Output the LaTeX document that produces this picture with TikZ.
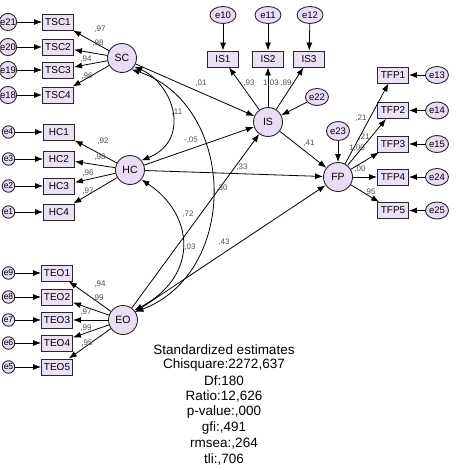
\documentclass[tikz,border=0pt]{standalone}
\usepackage{fontspec}
\setmainfont{Liberation Sans}
\usetikzlibrary{arrows.meta,shapes.geometric}
\definecolor{boxfill}{RGB}{236,224,244}
\definecolor{circfill}{RGB}{234,220,244}
\definecolor{lblgray}{RGB}{80,80,80}
\definecolor{edgecol}{RGB}{40,40,40}
\begin{document}
\begin{tikzpicture}[x=1pt,y=-1pt,
  obs/.style={draw=edgecol, line width=0.9pt, fill=boxfill, minimum width=31pt, minimum height=16pt, inner sep=0pt, font=\fontsize{10}{12}\selectfont},
  lat/.style={circle, draw=edgecol, line width=0.9pt, fill=circfill, minimum size=29pt, inner sep=0pt, font=\fontsize{10.5}{12}\selectfont},
  errel/.style={ellipse, draw=edgecol, line width=0.9pt, fill=circfill, minimum width=23pt, minimum height=17pt, inner sep=0pt, font=\fontsize{9.5}{11}\selectfont},
  errbig/.style={circle, draw=edgecol, line width=0.9pt, fill=circfill, minimum size=17pt, inner sep=0pt, font=\fontsize{9.5}{11}\selectfont},
  errsm/.style={circle, draw=edgecol, line width=0.9pt, fill=circfill, minimum size=12.5pt, inner sep=0pt, font=\fontsize{8.5}{10}\selectfont},
  arr/.style={-{Latex[length=8pt,width=6pt]}, line width=0.8pt},
  covarr/.style={{Latex[length=8pt,width=6pt]}-{Latex[length=8pt,width=6pt]}, line width=0.8pt},
  lbl/.style={font=\fontsize{8}{9}\selectfont, text=lblgray, inner sep=0pt},
  stat/.style={font=\fontsize{13.5}{15}\selectfont, inner sep=0pt}
]
\useasboundingbox (0,0) rectangle (458,470);

% latent variables
\node[lat] (SC) at (122,58) {SC};
\node[lat] (HC) at (130,170) {HC};
\node[lat] (EO) at (123,320) {EO};
\node[lat] (IS) at (268,122) {IS};
\node[lat] (FP) at (338,177) {FP};

% SC indicators
\node[obs] (TSC1) at (58,22) {TSC1};
\node[obs] (TSC2) at (58,47) {TSC2};
\node[obs] (TSC3) at (58,70) {TSC3};
\node[obs] (TSC4) at (58,95) {TSC4};
\node[errbig] (e21) at (8,22) {e21};
\node[errbig] (e20) at (8,47) {e20};
\node[errbig] (e19) at (8,70) {e19};
\node[errbig] (e18) at (8,95) {e18};

% HC indicators
\node[obs] (HC1) at (59,132) {HC1};
\node[obs] (HC2) at (59,159) {HC2};
\node[obs] (HC3) at (59,186) {HC3};
\node[obs] (HC4) at (59,212) {HC4};
\node[errsm] (e4) at (8.5,132) {e4};
\node[errsm] (e3) at (8.5,159) {e3};
\node[errsm] (e2) at (8.5,186) {e2};
\node[errsm] (e1) at (8.5,212) {e1};

% EO indicators
\node[obs] (TEO1) at (57,273) {TEO1};
\node[obs] (TEO2) at (57,297) {TEO2};
\node[obs] (TEO3) at (57,320) {TEO3};
\node[obs] (TEO4) at (57,343) {TEO4};
\node[obs] (TEO5) at (57,367) {TEO5};
\node[errsm] (e9) at (8.5,273) {e9};
\node[errsm] (e8) at (8.5,297) {e8};
\node[errsm] (e7) at (8.5,320) {e7};
\node[errsm] (e6) at (8.5,343) {e6};
\node[errsm] (e5) at (8.5,367) {e5};

% IS indicators
\node[obs] (IS1) at (223,59) {IS1};
\node[obs] (IS2) at (268,59) {IS2};
\node[obs] (IS3) at (309,59) {IS3};
\node[errel, minimum width=26pt] (e10) at (223,15) {e10};
\node[errel, minimum width=26pt] (e11) at (268,15) {e11};
\node[errel, minimum width=26pt] (e12) at (310,15) {e12};
\node[errel] (e22) at (317,97) {e22};
\node[errel, minimum height=19pt] (e23) at (338,131) {e23};

% FP indicators
\node[obs] (TFP1) at (393,75) {TFP1};
\node[obs] (TFP2) at (393,110.5) {TFP2};
\node[obs] (TFP3) at (393,144) {TFP3};
\node[obs] (TFP4) at (393,177) {TFP4};
\node[obs] (TFP5) at (393,210.5) {TFP5};
\node[errel] (e13) at (437,75) {e13};
\node[errel] (e14) at (437,110.5) {e14};
\node[errel] (e15) at (437,144) {e15};
\node[errel] (e24) at (437,177) {e24};
\node[errel] (e25) at (437,210.5) {e25};

% error arrows
\foreach \e/\b in {e21/TSC1,e20/TSC2,e19/TSC3,e18/TSC4,e4/HC1,e3/HC2,e2/HC3,e1/HC4,e9/TEO1,e8/TEO2,e7/TEO3,e6/TEO4,e5/TEO5,e10/IS1,e11/IS2,e12/IS3,e13/TFP1,e14/TFP2,e15/TFP3,e24/TFP4,e25/TFP5,e22/IS,e23/FP}
  \draw[arr] (\e) -- (\b);

% loadings
\draw[arr] (SC) -- (TSC1) node[lbl] at (100,29) {,97};
\draw[arr] (SC) -- (TSC2) node[lbl] at (98,43) {,98};
\draw[arr] (SC) -- (TSC3) node[lbl] at (86,59) {,94};
\draw[arr] (SC) -- (TSC4) node[lbl] at (87,76) {,96};

\draw[arr] (HC) -- (HC1) node[lbl] at (103,141) {,92};
\draw[arr] (HC) -- (HC2) node[lbl] at (100,157) {,98};
\draw[arr] (HC) -- (HC3) node[lbl] at (88,173) {,96};
\draw[arr] (HC) -- (HC4) node[lbl] at (88,191) {,97};

\draw[arr] (EO) -- (TEO1) node[lbl] at (100,284) {,94};
\draw[arr] (EO) -- (TEO2) node[lbl] at (98,298) {,99};
\draw[arr] (EO) -- (TEO3) node[lbl] at (86,312) {,97};
\draw[arr] (EO) -- (TEO4) node[lbl] at (86,328) {,99};
\draw[arr] (EO) -- (TEO5) node[lbl] at (87,343) {,95};

\draw[arr] (IS) -- (IS1) node[lbl] at (249,83) {,93};
\draw[arr] (IS) -- (IS2) node[lbl] at (271,83) {1,03};
\draw[arr] (IS) -- (IS3) node[lbl] at (286,83) {,89};

\draw[arr] (FP) -- (TFP1) node[lbl] at (361,118) {,21};
\draw[arr] (FP) -- (TFP2) node[lbl] at (364,137) {,21};
\draw[arr] (FP) -- (TFP3) node[lbl] at (357,148) {1,00};
\draw[arr] (FP) -- (TFP4) node[lbl] at (360,169) {,00};
\draw[arr] (FP) -- (TFP5) node[lbl] at (370,192) {,95};

% structural paths
\draw[arr] (SC) -- (IS) node[lbl] at (201,83) {,01};
\draw[arr] (HC) -- (IS) node[lbl] at (191,140) {-,05};
\draw[arr] (EO) -- (IS) node[lbl] at (188,214) {,72};
\draw[arr] (HC) -- (FP) node[lbl] at (242,167) {,33};
\draw[arr] (IS) -- (FP) node[lbl] at (309,143) {,41};
\draw[arr] (EO) -- (FP) node[lbl] at (224,242) {,43};

% covariances
\draw[covarr] (SC.-35) .. controls +(40,18) and +(50,-20) .. (HC.40) node[lbl] at (177,112) {,11};
\draw[covarr] (HC.-40) .. controls +(53,35) and +(65,-35) .. (EO.40) node[lbl] at (190,247) {,03};
\draw[covarr] (SC.-50) .. controls +(105,35) and +(105,-40) .. (EO.33) node[lbl] at (222,188) {,30};

% fit statistics
\node[stat] (st1) at (224,349.5) {Standardized estimates};
\node[stat] (st2) at (224,365.2) {Chisquare:2272,637};
\node[stat] (st3) at (224,380.9) {Df:180};
\node[stat] (st4) at (224,396.6) {Ratio:12,626};
\node[stat] (st5) at (224,412.3) {p-value:,000};
\node[stat] (st6) at (224,428) {gfi:,491};
\node[stat] (st7) at (224,443.7) {rmsea:,264};
\node[stat] (st8) at (224,459.4) {tli:,706};
\end{tikzpicture}
\end{document}
